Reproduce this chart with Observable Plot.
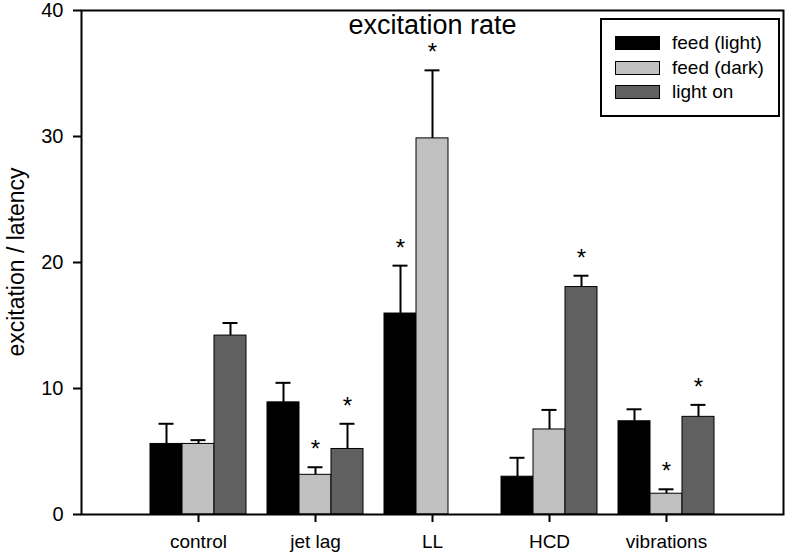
<!DOCTYPE html>
<html>
<head>
<meta charset="utf-8">
<script src="https://cdn.jsdelivr.net/npm/d3@7"></script>
<script src="https://cdn.jsdelivr.net/npm/@observablehq/plot@0.6"></script>
<style>
  html, body { margin: 0; padding: 0; background: #fff; }
  #wrap { position: relative; width: 788px; height: 554px; font-family: "Liberation Sans", Arial, sans-serif; color: #000; }
  #ylabel { position: absolute; left: 16px; top: 262px; transform: translate(-50%, -50%) rotate(-90deg); white-space: nowrap; font-size: 23px; line-height: 1; }
  #legend { position: absolute; left: 600px; top: 18px; width: 180px; height: 99px; box-sizing: border-box; border: 2px solid #000; background: #fff; }
  .item { position: absolute; left: 13px; height: 14px; width: 170px; }
  .sw { position: absolute; left: 0; top: 0; width: 45px; height: 14px; box-sizing: border-box; border: 1px solid #000; }
  .lab { position: absolute; left: 57px; top: 6px; transform: translateY(-50%); font-size: 19px; white-space: nowrap; line-height: 1; }
</style>
</head>
<body>
<div id="wrap">
  <div id="chart"></div>
  <div id="ylabel"></div>
  <div id="legend"></div>
</div>
<script>
const categories = ["control", "jet lag", "LL", "HCD", "vibrations"];
const seriesNames = ["feed (light)", "feed (dark)", "light on"];
const seriesColors = ["#000000", "#c0c0c0", "#606060"];
const feedLight = [5.6, 8.9, 15.95, 3.0, 7.4];
const feedLightErr = [1.6, 1.55, 3.8, 1.5, 0.95];
const feedDark = [5.6, 3.15, 29.85, 6.75, 1.65];
const feedDarkErr = [0.3, 0.6, 5.4, 1.55, 0.35];
const lightOn = [14.2, 5.2, null, 18.05, 7.75];
const lightOnErr = [1.0, 2.0, null, 0.9, 0.95];
const feedLightSig = [false, false, true, false, false];
const feedDarkSig = [false, true, true, false, true];
const lightOnSig = [false, true, false, true, true];
const yTicks = [0, 10, 20, 30, 40];
const titleText = "excitation rate";
const yLabelText = "excitation / latency";

const values = [feedLight, feedDark, lightOn];
const errs = [feedLightErr, feedDarkErr, lightOnErr];
const sigs = [feedLightSig, feedDarkSig, lightOnSig];

const barW = 0.2735;
const capHalf = 0.064;
const rows = [];
categories.forEach((c, i) => {
  seriesNames.forEach((s, j) => {
    const v = values[j][i];
    if (v == null) return;
    const xc = (i + 1) + (j - 1) * barW;
    rows.push({cat: c, series: s, value: v, err: errs[j][i], sig: sigs[j][i],
               xc, x1: xc - barW / 2, x2: xc + barW / 2});
  });
});

const plot = Plot.plot({
  width: 788,
  height: 554,
  marginLeft: 81,
  marginRight: 5,
  marginTop: 10,
  marginBottom: 40,
  style: {fontFamily: '"Liberation Sans", Arial, sans-serif', color: "#000", background: "transparent"},
  x: {type: "linear", domain: [0, 6]},
  y: {domain: [0, 40]},
  color: {domain: seriesNames, range: seriesColors},
  marks: [
    Plot.rect(rows, {x1: "x1", x2: "x2", y1: 0, y2: "value", fill: "series", stroke: "#000", strokeWidth: 1}),
    Plot.ruleX(rows, {x: "xc", y1: "value", y2: d => d.value + d.err, stroke: "#000", strokeWidth: 2}),
    Plot.ruleY(rows, {y: d => d.value + d.err, x1: d => d.xc - capHalf, x2: d => d.xc + capHalf, stroke: "#000", strokeWidth: 2}),
    Plot.text(rows.filter(d => d.sig), {x: "xc", y: d => d.value + d.err, text: () => "*", lineAnchor: "bottom", dy: -10, fontSize: 24}),
    Plot.frame({stroke: "#000", strokeWidth: 2}),
    Plot.axisY({ticks: yTicks, tickSize: 8, tickPadding: 10, fontSize: 20, label: null, strokeWidth: 2}),
    Plot.axisX({ticks: [1, 2, 3, 4, 5], tickFormat: d => categories[d - 1], tickSize: 8, tickPadding: 12, fontSize: 19, label: null, strokeWidth: 2}),
    Plot.text([titleText], {frameAnchor: "top", dy: 4, fontSize: 27})
  ]
});
document.getElementById("chart").appendChild(plot);

document.getElementById("ylabel").textContent = yLabelText;
const legend = document.getElementById("legend");
seriesNames.forEach((s, j) => {
  const item = document.createElement("div");
  item.className = "item";
  item.style.top = (16 + j * 24.5) + "px";
  const sw = document.createElement("div");
  sw.className = "sw";
  sw.style.background = seriesColors[j];
  const lab = document.createElement("div");
  lab.className = "lab";
  lab.textContent = s;
  item.appendChild(sw);
  item.appendChild(lab);
  legend.appendChild(item);
});
</script>
</body>
</html>
